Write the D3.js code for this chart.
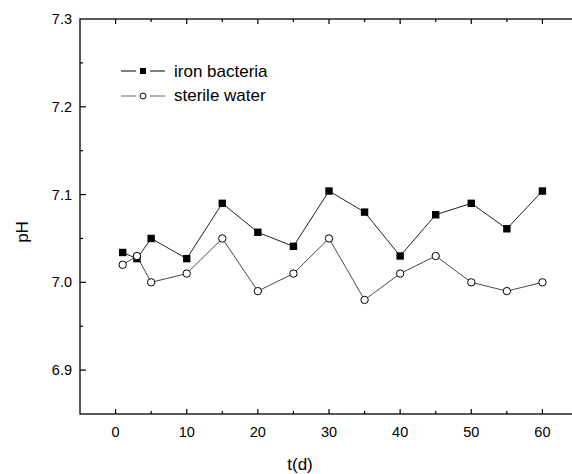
<!DOCTYPE html>
<meta charset="utf-8">
<style>
    body { margin: 0; background: #fff; }
    svg { font-family: Arial, "Liberation Sans", sans-serif; }
    .frame { fill: none; stroke: #000; stroke-width: 1.3; }
    .tick-label { font-size: 14.5px; fill: #000; }
</style>

<svg width="572" height="474"></svg>

<script src="https://d3js.org/d3.v7.min.js"></script>

<script>
// sampling days and pH readings
var days = [1, 3, 5, 10, 15, 20, 25, 30, 35, 40, 45, 50, 55, 60];
var ironBacteria = [7.034, 7.027, 7.050, 7.027, 7.090, 7.057, 7.041, 7.104, 7.080, 7.030, 7.077, 7.090, 7.061, 7.104];
var sterileWater = [7.020, 7.030, 7.000, 7.010, 7.050, 6.990, 7.010, 7.050, 6.980, 7.010, 7.030, 7.000, 6.990, 7.000];

var xTicks = [0, 10, 20, 30, 40, 50, 60];
var yTicks = [6.9, 7.0, 7.1, 7.2, 7.3];

var svg = d3.select("svg");

var x = d3.scaleLinear().domain([-5, 65]).range([80, 578]);
var y = d3.scaleLinear().domain([6.85, 7.3]).range([414, 19]);

// frame (right edge falls outside the picture, as in the original)
svg.append("rect")
    .attr("class", "frame")
    .attr("x", x(-5)).attr("y", y(7.3))
    .attr("width", x(65) - x(-5))
    .attr("height", y(6.85) - y(7.3));

// inward ticks on all sides
var xMinor = d3.range(-5, 66, 5);
var yMinor = d3.range(6.85, 7.301, 0.05);

function isMajorX(v) { return Math.abs(v % 10) < 1e-6; }
function isMajorY(v) { return yTicks.some(function(t) { return Math.abs(t - v) < 1e-6; }); }

var g = svg.append("g").attr("stroke", "#000").attr("stroke-width", 1.2);

xMinor.forEach(function(v) {
    if (v <= -5 || v >= 65) return;
    var len = isMajorX(v) ? 5 : 3;
    g.append("line").attr("x1", x(v)).attr("x2", x(v))
        .attr("y1", y(6.85)).attr("y2", y(6.85) - len);
    g.append("line").attr("x1", x(v)).attr("x2", x(v))
        .attr("y1", y(7.3)).attr("y2", y(7.3) + len);
});

yMinor.forEach(function(v) {
    if (v <= 6.851 || v >= 7.299) return;
    var len = isMajorY(v) ? 6 : 3;
    g.append("line").attr("x1", x(-5)).attr("x2", x(-5) + len)
        .attr("y1", y(v)).attr("y2", y(v));
});

svg.selectAll(".xl")
    .data(xTicks)
    .enter().append("text")
    .attr("class", "tick-label")
    .attr("x", function(d) { return x(d); })
    .attr("y", 437)
    .attr("text-anchor", "middle")
    .text(function(d) { return d; });

svg.selectAll(".yl")
    .data(yTicks)
    .enter().append("text")
    .attr("class", "tick-label")
    .attr("x", 72)
    .attr("y", function(d) { return y(d) + 5; })
    .attr("text-anchor", "end")
    .text(function(d) { return d.toFixed(1); });

svg.append("text")
    .attr("x", 300).attr("y", 470)
    .attr("text-anchor", "middle")
    .attr("font-size", 17)
    .text("t(d)");

svg.append("text")
    .attr("transform", "translate(28,232) rotate(-90)")
    .attr("text-anchor", "middle")
    .attr("font-size", 17)
    .text("pH");

// series
var line = d3.line()
    .x(function(d) { return x(d[0]); })
    .y(function(d) { return y(d[1]); });

var ironPts = days.map(function(d, i) { return [d, ironBacteria[i]]; });
var waterPts = days.map(function(d, i) { return [d, sterileWater[i]]; });

svg.append("path").datum(ironPts)
    .attr("d", line).attr("fill", "none")
    .attr("stroke", "#222").attr("stroke-width", 1);

svg.append("path").datum(waterPts)
    .attr("d", line).attr("fill", "none")
    .attr("stroke", "#333").attr("stroke-width", 0.9);

svg.selectAll(".sq")
    .data(ironPts)
    .enter().append("rect")
    .attr("x", function(d) { return x(d[0]) - 3.7; })
    .attr("y", function(d) { return y(d[1]) - 3.7; })
    .attr("width", 7.4).attr("height", 7.4)
    .attr("fill", "#000");

svg.selectAll(".ci")
    .data(waterPts)
    .enter().append("circle")
    .attr("cx", function(d) { return x(d[0]); })
    .attr("cy", function(d) { return y(d[1]); })
    .attr("r", 3.7)
    .attr("fill", "#fff")
    .attr("stroke", "#000").attr("stroke-width", 1);

// legend
var lg = svg.append("g");
lg.append("line").attr("x1", 121).attr("x2", 136).attr("y1", 71).attr("y2", 71).attr("stroke", "#000");
lg.append("line").attr("x1", 150).attr("x2", 165).attr("y1", 71).attr("y2", 71).attr("stroke", "#000");
lg.append("rect").attr("x", 140).attr("y", 68).attr("width", 6).attr("height", 6).attr("fill", "#000");
lg.append("text").attr("x", 174).attr("y", 77).attr("font-size", 17).text("iron bacteria");

lg.append("line").attr("x1", 121).attr("x2", 136).attr("y1", 96).attr("y2", 96).attr("stroke", "#666");
lg.append("line").attr("x1", 150).attr("x2", 165).attr("y1", 96).attr("y2", 96).attr("stroke", "#666");
lg.append("circle").attr("cx", 143).attr("cy", 96).attr("r", 3).attr("fill", "#fff").attr("stroke", "#000");
lg.append("text").attr("x", 174).attr("y", 101).attr("font-size", 17).text("sterile water");
</script>
